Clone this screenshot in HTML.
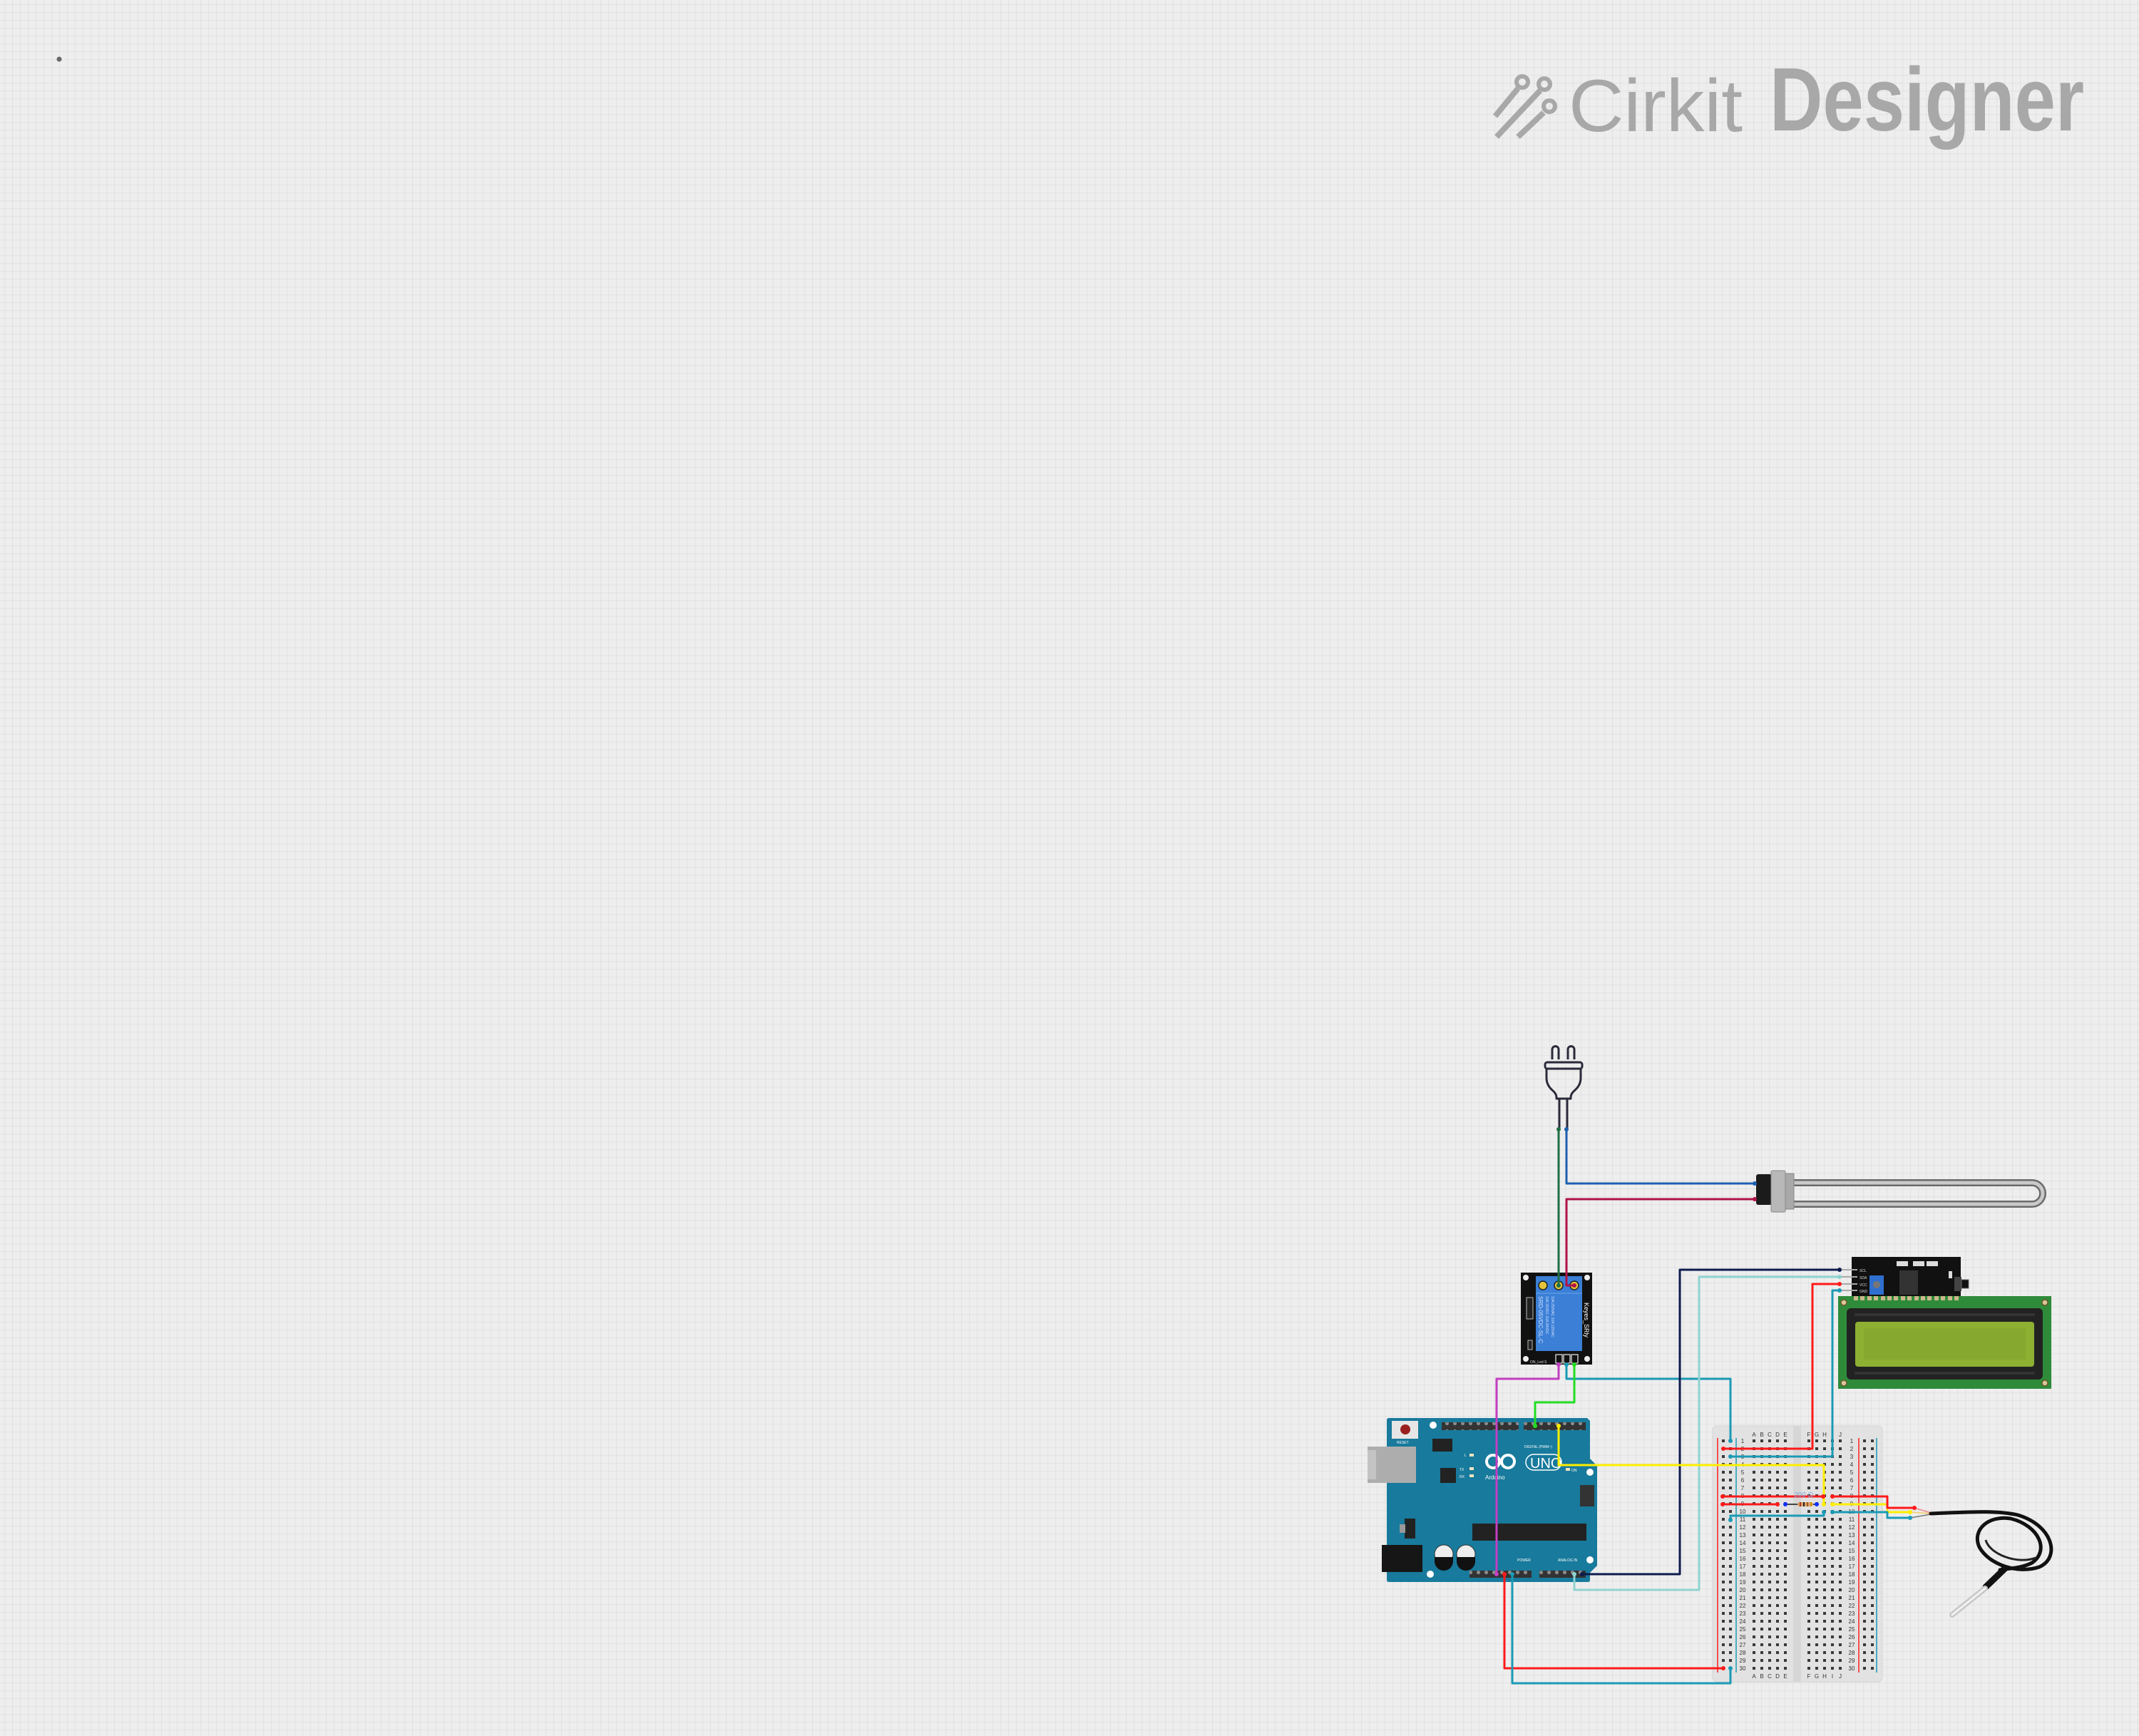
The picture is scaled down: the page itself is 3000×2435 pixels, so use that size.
<!DOCTYPE html>
<html><head><meta charset="utf-8"><style>
html,body{margin:0;padding:0;background:#eeeeee;}
svg{display:block;}
text{font-family:"Liberation Sans",sans-serif;}
</style></head><body>
<svg width="3000" height="2435" viewBox="0 0 3000 2435" xmlns="http://www.w3.org/2000/svg">
<defs>
<pattern id="grid" x="6.5" y="6.5" width="11" height="11" patternUnits="userSpaceOnUse">
<path d="M0 0H11M0 0V11" stroke="#d9d9d9" stroke-width="1.2" fill="none"/>
</pattern>
<pattern id="holes" x="2454.5" y="2015.5" width="11" height="11" patternUnits="userSpaceOnUse">
<rect x="3.5" y="3.5" width="4" height="4" fill="#3a3a3a"/>
</pattern>
<pattern id="holesR" x="2531.5" y="2015.5" width="11" height="11" patternUnits="userSpaceOnUse">
<rect x="3.5" y="3.5" width="4" height="4" fill="#3a3a3a"/>
</pattern>
<pattern id="holesV" x="0" y="2015.5" width="3000" height="11" patternUnits="userSpaceOnUse">
<rect x="2415" y="3.5" width="4" height="4" fill="#3a3a3a"/>
<rect x="2425" y="3.5" width="4" height="4" fill="#3a3a3a"/>
<rect x="2613" y="3.5" width="4" height="4" fill="#3a3a3a"/>
<rect x="2624" y="3.5" width="4" height="4" fill="#3a3a3a"/>
</pattern>
<pattern id="pins" x="0" y="0" width="11" height="11" patternUnits="userSpaceOnUse">
<circle cx="5.5" cy="5.5" r="2.6" fill="#8a8a8a"/>
</pattern>
</defs>
<rect width="3000" height="2435" fill="#eeeeee"/>
<rect width="3000" height="2435" fill="url(#grid)"/>
<circle cx="83" cy="83" r="3.5" fill="#666"/>

<!-- Logo -->
<g fill="none" stroke="#a8a8a8" stroke-width="8">
<line x1="2097" y1="163" x2="2129" y2="124"/>
<circle cx="2135" cy="115" r="8" stroke-width="6"/>
<line x1="2099" y1="192" x2="2160" y2="127"/>
<circle cx="2166" cy="118" r="8" stroke-width="6"/>
<line x1="2129" y1="192" x2="2165" y2="158"/>
<circle cx="2173" cy="149" r="8" stroke-width="6"/>
</g>
<text x="2200" y="184" font-size="104" fill="#a8a8a8" textLength="244" lengthAdjust="spacingAndGlyphs">Cirkit</text>
<text x="2482" y="183" font-size="126" font-weight="bold" fill="#a8a8a8" textLength="441" lengthAdjust="spacingAndGlyphs">Designer</text>

<!-- Plug -->
<g fill="none" stroke="#2a2a3a" stroke-width="3" stroke-linejoin="round">
<path d="M2177 1486V1472a4.5 4.5 0 0 1 9 0V1486"/>
<path d="M2199 1486V1472a4.5 4.5 0 0 1 9 0V1486"/>
<rect x="2167" y="1490" width="52" height="9" rx="3"/>
<path d="M2169 1499V1512q0 10 8 17q6 5 6 10v2h20v-2q0-5 6-10q8-7 8-17V1499"/>
<path d="M2183 1541h20"/>
<line x1="2187" y1="1541" x2="2187" y2="1584"/>
<line x1="2198" y1="1541" x2="2198" y2="1584"/>
</g>

<!-- Heater -->
<g>
<path d="M2515 1659H2850a15 15 0 0 1 0 30H2515" fill="none" stroke="#6b6b6b" stroke-width="10"/>
<path d="M2515 1659H2850a15 15 0 0 1 0 30H2515" fill="none" stroke="#c9c9c9" stroke-width="5"/>
<rect x="2463" y="1647" width="22" height="43" rx="3" fill="#1b1b1b"/>
<rect x="2484" y="1642" width="20" height="58" rx="2" fill="#b8b8b8" stroke="#8a8a8a"/>
<rect x="2504" y="1646" width="12" height="50" fill="#a9a9a9" stroke="#888"/>
</g>

<!-- Arduino -->
<path d="M1945 1992q0-3 3-3H2226l4 4V2046l10 10V2196l-10 10V2216q0 3-3 3H1948q-3 0-3-3Z" fill="#187a9c"/>
<rect x="1918" y="2029" width="68" height="51" fill="#adadad"/><rect x="1918" y="2034" width="12" height="41" fill="#c4c4c4"/>
<rect x="1938" y="2167" width="57" height="38" fill="#161616"/>
<g fill="#eee" stroke="#333"><circle cx="2025" cy="2180" r="13"/><circle cx="2056" cy="2180" r="13"/></g>
<path d="M2012 2184h26v6a13 13 0 0 1-26 0Z" fill="#111"/><path d="M2043 2184h26v6a13 13 0 0 1-26 0Z" fill="#111"/>
<rect x="1952" y="1993" width="37" height="25" fill="#e6e6e6"/><circle cx="1971" cy="2005" r="7" fill="#9a2020"/>
<text x="1959" y="2025" font-size="5" fill="#fff">RESET</text>
<rect x="2009" y="2018" width="28" height="18" fill="#222"/>
<rect x="2022" y="1995" width="108" height="11" fill="#333"/><rect x="2022" y="1995" width="108" height="11" fill="url(#pins)"/>
<rect x="2137" y="1995" width="87" height="11" fill="#333"/><rect x="2137" y="1995" width="87" height="11" fill="url(#pins)"/>
<rect x="2061" y="2203" width="87" height="10" fill="#333"/><rect x="2061" y="2203" width="87" height="10" fill="url(#pins)"/>
<rect x="2159" y="2203" width="65" height="10" fill="#333"/><rect x="2159" y="2203" width="65" height="10" fill="url(#pins)"/>
<rect x="2065" y="2137" width="160" height="24" fill="#222"/>
<rect x="2020" y="2059" width="22" height="21" fill="#222"/>
<rect x="1970" y="2130" width="15" height="28" fill="#222"/><rect x="1963" y="2138" width="8" height="12" fill="#999"/>
<rect x="2216" y="2083" width="20" height="30" fill="#333"/>
<g fill="#fff"><circle cx="2010" cy="1999" r="5"/><circle cx="2230" cy="2065" r="5"/><circle cx="2230" cy="2188" r="5"/><circle cx="2006" cy="2208" r="5"/></g>
<g fill="none" stroke="#fff" stroke-width="4"><circle cx="2094" cy="2050" r="9"/><circle cx="2115" cy="2050" r="9"/></g>
<rect x="2140" y="2040" width="50" height="22" rx="11" fill="none" stroke="#fff" stroke-width="1.5"/>
<text x="2146" y="2059" font-size="20" fill="#fff">UNO</text>
<text x="2083" y="2075" font-size="8" fill="#fff">Arduino</text>
<g fill="#f2e6c0"><rect x="2061" y="2039" width="6" height="4"/><rect x="2061" y="2058" width="6" height="4"/><rect x="2061" y="2068" width="6" height="4"/><rect x="2196" y="2059" width="6" height="4"/></g>
<g font-size="5" fill="#fff"><text x="2054" y="2043">L</text><text x="2047" y="2063">TX</text><text x="2047" y="2073">RX</text><text x="2204" y="2064">ON</text><text x="2138" y="2031">DIGITAL (PWM~)</text><text x="2128" y="2190">POWER</text><text x="2185" y="2190">ANALOG IN</text></g>

<!-- Breadboard -->
<rect x="2402" y="2000" width="238" height="359" rx="6" fill="#e2e2e2" stroke="#d4d4d4"/>
<rect x="2515" y="2000" width="11" height="359" fill="#d6d6d6"/>
<rect x="2454.5" y="2015.5" width="55" height="330" fill="url(#holes)"/>
<rect x="2531.5" y="2015.5" width="55" height="330" fill="url(#holesR)"/>
<rect x="2410" y="2015.5" width="225" height="330" fill="url(#holesV)"/>
<g stroke-width="1.5">
<line x1="2409" y1="2017" x2="2409" y2="2346" stroke="#ff2020"/>
<line x1="2435" y1="2017" x2="2435" y2="2346" stroke="#1b9ab5"/>
<line x1="2607" y1="2017" x2="2607" y2="2346" stroke="#ff2020"/>
<line x1="2632" y1="2017" x2="2632" y2="2346" stroke="#1b9ab5"/>
</g>
<g font-size="8" fill="#333" text-anchor="middle">
<text x="2460" y="2015">A</text><text x="2471" y="2015">B</text><text x="2482" y="2015">C</text><text x="2493" y="2015">D</text><text x="2504" y="2015">E</text>
<text x="2537" y="2015">F</text><text x="2548" y="2015">G</text><text x="2559" y="2015">H</text><text x="2570" y="2015">I</text><text x="2581" y="2015">J</text>
<text x="2460" y="2354">A</text><text x="2471" y="2354">B</text><text x="2482" y="2354">C</text><text x="2493" y="2354">D</text><text x="2504" y="2354">E</text>
<text x="2537" y="2354">F</text><text x="2548" y="2354">G</text><text x="2559" y="2354">H</text><text x="2570" y="2354">I</text><text x="2581" y="2354">J</text>
</g>
<g font-size="8" fill="#333" text-anchor="middle">
<text x="2444" y="2024">1</text><text x="2444" y="2035">2</text><text x="2444" y="2046">3</text><text x="2444" y="2057">4</text><text x="2444" y="2068">5</text><text x="2444" y="2079">6</text><text x="2444" y="2090">7</text><text x="2444" y="2101">8</text><text x="2444" y="2112">9</text><text x="2444" y="2123">10</text><text x="2444" y="2134">11</text><text x="2444" y="2145">12</text><text x="2444" y="2156">13</text><text x="2444" y="2167">14</text><text x="2444" y="2178">15</text><text x="2444" y="2189">16</text><text x="2444" y="2200">17</text><text x="2444" y="2211">18</text><text x="2444" y="2222">19</text><text x="2444" y="2233">20</text><text x="2444" y="2244">21</text><text x="2444" y="2255">22</text><text x="2444" y="2266">23</text><text x="2444" y="2277">24</text><text x="2444" y="2288">25</text><text x="2444" y="2299">26</text><text x="2444" y="2310">27</text><text x="2444" y="2321">28</text><text x="2444" y="2332">29</text><text x="2444" y="2343">30</text>
<text x="2597" y="2024">1</text><text x="2597" y="2035">2</text><text x="2597" y="2046">3</text><text x="2597" y="2057">4</text><text x="2597" y="2068">5</text><text x="2597" y="2079">6</text><text x="2597" y="2090">7</text><text x="2597" y="2101">8</text><text x="2597" y="2112">9</text><text x="2597" y="2123">10</text><text x="2597" y="2134">11</text><text x="2597" y="2145">12</text><text x="2597" y="2156">13</text><text x="2597" y="2167">14</text><text x="2597" y="2178">15</text><text x="2597" y="2189">16</text><text x="2597" y="2200">17</text><text x="2597" y="2211">18</text><text x="2597" y="2222">19</text><text x="2597" y="2233">20</text><text x="2597" y="2244">21</text><text x="2597" y="2255">22</text><text x="2597" y="2266">23</text><text x="2597" y="2277">24</text><text x="2597" y="2288">25</text><text x="2597" y="2299">26</text><text x="2597" y="2310">27</text><text x="2597" y="2321">28</text><text x="2597" y="2332">29</text><text x="2597" y="2343">30</text>
</g>

<!-- LCD -->
<rect x="2578" y="1818" width="299" height="130" fill="#2e8b3a"/>
<rect x="2590" y="1835" width="275" height="100" rx="6" fill="#222"/>
<rect x="2601" y="1842" width="253" height="4" fill="#333"/>
<rect x="2601" y="1924" width="253" height="4" fill="#333"/>
<rect x="2602" y="1854" width="251" height="63" rx="4" fill="#8db032"/>
<rect x="2614" y="1863" width="227" height="44" fill="#86a82e"/>
<g fill="#d8c89a" stroke="#6b5a2a" stroke-width="1.5"><circle cx="2586" cy="1827" r="4"/><circle cx="2868" cy="1827" r="4"/><circle cx="2586" cy="1940" r="4"/><circle cx="2868" cy="1940" r="4"/></g>
<!-- I2C -->
<rect x="2597" y="1763" width="153" height="55" fill="#111"/>
<g fill="#c9b98a"><rect x="2600" y="1818" width="6" height="6"/><rect x="2609" y="1818" width="6" height="6"/><rect x="2619" y="1818" width="6" height="6"/><rect x="2628" y="1818" width="6" height="6"/><rect x="2638" y="1818" width="6" height="6"/><rect x="2647" y="1818" width="6" height="6"/><rect x="2656" y="1818" width="6" height="6"/><rect x="2666" y="1818" width="6" height="6"/><rect x="2675" y="1818" width="6" height="6"/><rect x="2685" y="1818" width="6" height="6"/><rect x="2694" y="1818" width="6" height="6"/><rect x="2703" y="1818" width="6" height="6"/><rect x="2713" y="1818" width="6" height="6"/><rect x="2722" y="1818" width="6" height="6"/><rect x="2732" y="1818" width="6" height="6"/><rect x="2741" y="1818" width="6" height="6"/></g>
<rect x="2622" y="1789" width="20" height="27" fill="#2f6fcf"/><circle cx="2632" cy="1802" r="5" fill="#777"/>
<rect x="2664" y="1782" width="26" height="34" fill="#333"/>
<rect x="2741" y="1791" width="10" height="20" fill="#444"/><rect x="2751" y="1795" width="10" height="12" fill="#111" stroke="#666"/>
<g fill="#ddd"><rect x="2660" y="1769" width="16" height="7"/><rect x="2683" y="1769" width="16" height="7"/><rect x="2702" y="1769" width="16" height="7"/><rect x="2733" y="1783" width="5" height="10"/></g>
<g stroke="#aaa" stroke-width="2"><line x1="2580" y1="1781" x2="2605" y2="1781"/><line x1="2580" y1="1791" x2="2605" y2="1791"/><line x1="2580" y1="1801" x2="2605" y2="1801"/><line x1="2580" y1="1810" x2="2605" y2="1810"/></g>
<g font-size="5" fill="#ddd"><text x="2608" y="1784">SCL</text><text x="2608" y="1794">SDA</text><text x="2608" y="1804">VCC</text><text x="2608" y="1813">GND</text></g>

<!-- Relay -->
<rect x="2133" y="1785" width="100" height="129" fill="#111"/>
<rect x="2154" y="1790" width="65" height="105" fill="#3b7fd6"/>
<line x1="2154" y1="1814" x2="2219" y2="1814" stroke="#5a9ae6" stroke-width="1.5"/>
<g fill="#e4c43a" stroke="#222" stroke-width="1.5"><circle cx="2164" cy="1803" r="6"/><circle cx="2186" cy="1803" r="6"/><circle cx="2208" cy="1803" r="6"/></g>
<g fill="#eee"><circle cx="2140" cy="1792" r="4"/><circle cx="2226" cy="1792" r="4"/><circle cx="2140" cy="1906" r="4"/><circle cx="2226" cy="1906" r="4"/></g>
<rect x="2141" y="1820" width="9" height="30" fill="#222" stroke="#bbb"/>
<rect x="2143" y="1880" width="6" height="13" fill="#222" stroke="#bbb"/>
<g fill="#cfe0ff" font-size="8"><text transform="translate(2158 1818) rotate(90)">SRD-05VDC-SL-C</text><text font-size="5" transform="translate(2168 1818) rotate(90)">10A 30VDC 10A 28VDC</text><text font-size="5" transform="translate(2176 1818) rotate(90)">10A 250VAC 10A 125VAC</text></g>
<text transform="translate(2222 1827) rotate(90)" font-size="9" fill="#fff">Keyes_SRly</text>
<g fill="#111" stroke="#eee" stroke-width="1.2"><rect x="2182" y="1900" width="9" height="12"/><rect x="2193" y="1900" width="9" height="12"/><rect x="2204" y="1900" width="9" height="12"/></g>
<text x="2146" y="1912" font-size="5" fill="#ddd">ON_Led  S</text>

<!-- Temperature sensor -->
<g fill="none">
<path d="M2685 2115L2708 2122" stroke="#e88" stroke-width="1.5"/>
<path d="M2679 2121L2708 2123" stroke="#ec6" stroke-width="1.5"/>
<path d="M2679 2129L2708 2124" stroke="#777" stroke-width="1.5"/>
<path d="M2708 2123C2760 2121 2800 2118 2830 2125C2880 2140 2890 2185 2860 2198C2830 2208 2790 2195 2776 2170C2765 2145 2790 2125 2820 2130C2860 2140 2875 2175 2850 2192C2835 2200 2815 2200 2805 2202" stroke="#111" stroke-width="5" stroke-linecap="round"/>
<path d="M2785 2160C2790 2180 2830 2195 2855 2185" stroke="#222" stroke-width="3"/>
<path d="M2812 2200L2785 2226" stroke="#111" stroke-width="9" stroke-linecap="round"/>
<path d="M2784 2228L2738 2265" stroke="#c8c8c8" stroke-width="8" stroke-linecap="round"/>
<path d="M2784 2228L2738 2265" stroke="#f2f2f2" stroke-width="3" stroke-linecap="round"/>
</g>

<!-- Wires -->
<g fill="none" stroke-width="3" stroke-linejoin="round" stroke-linecap="round">
<path d="M2186 1584V1803" stroke="#1f6e45"/>
<path d="M2197 1584V1660H2461" stroke="#1f5fb0"/>
<path d="M2208 1803H2197V1682H2461" stroke="#b0124a"/>
<path d="M2186 1914V1934H2099V2208" stroke="#c23fc2"/>
<path d="M2197 1914V1934H2427V2021" stroke="#1b9ab5"/>
<path d="M2208 1914V1967H2153V2000" stroke="#22dd22"/>
<path d="M2219 2208H2356V1781H2580" stroke="#0d1b4d"/>
<path d="M2208 2208V2230H2383V1791H2580" stroke="#8fd3cf"/>
<path d="M2580 1801H2542V2032H2417" stroke="#ff1a1a"/>
<path d="M2580 1810H2570V2043H2427" stroke="#1b9ab5"/>
<path d="M2110 2208V2340H2417" stroke="#ff1a1a"/>
<path d="M2121 2208V2361H2427V2340" stroke="#1b9ab5"/>
<path d="M2186 2000V2055H2558V2110" stroke="#ffee00"/>
<path d="M2570 2110H2647V2121H2679" stroke="#ffee00"/>
<path d="M2416 2099H2557" stroke="#ff1a1a"/>
<path d="M2570 2099H2647V2115H2685" stroke="#ff1a1a"/>
<path d="M2416 2110H2493" stroke="#ff1a1a"/>
<path d="M2558 2121V2126H2427V2132" stroke="#1b9ab5"/>
<path d="M2570 2121H2647V2129H2679" stroke="#1b9ab5"/>
</g>
<!-- resistor -->
<line x1="2504" y1="2110" x2="2548" y2="2110" stroke="#111" stroke-width="1.5"/>
<rect x="2521" y="2107" width="22" height="6" rx="3" fill="#d9a36a"/>
<g stroke-width="2"><line x1="2525" y1="2107" x2="2525" y2="2113" stroke="#a32"/><line x1="2530" y1="2107" x2="2530" y2="2113" stroke="#222"/><line x1="2535" y1="2107" x2="2535" y2="2113" stroke="#a52"/><line x1="2540" y1="2107" x2="2540" y2="2113" stroke="#c90"/></g>
<text x="2516" y="2100" font-size="10" fill="#7aa6d9">200 Ω</text>

<!-- endpoint dots -->
<g>
<circle cx="2504" cy="2110" r="3" fill="#1030ff"/><circle cx="2548" cy="2110" r="3" fill="#1030ff"/>
<circle cx="2416" cy="2099" r="3" fill="#ff1a1a"/><circle cx="2557" cy="2099" r="3" fill="#ff1a1a"/><circle cx="2570" cy="2099" r="3" fill="#ff1a1a"/>
<circle cx="2416" cy="2110" r="3" fill="#ff1a1a"/><circle cx="2493" cy="2110" r="3" fill="#ff1a1a"/>
<circle cx="2558" cy="2110" r="3" fill="#ffee00"/><circle cx="2570" cy="2110" r="3" fill="#ffee00"/>
<circle cx="2558" cy="2121" r="3" fill="#1b9ab5"/><circle cx="2570" cy="2121" r="3" fill="#1b9ab5"/><circle cx="2427" cy="2132" r="3" fill="#1b9ab5"/>
<circle cx="2427" cy="2021" r="3" fill="#1b9ab5"/><circle cx="2417" cy="2032" r="3" fill="#ff1a1a"/><circle cx="2427" cy="2043" r="3" fill="#1b9ab5"/>
<circle cx="2417" cy="2340" r="3" fill="#ff1a1a"/><circle cx="2427" cy="2340" r="3" fill="#1b9ab5"/>
<circle cx="2685" cy="2115" r="3" fill="#ff1a1a"/><circle cx="2679" cy="2121" r="3" fill="#ffee00"/><circle cx="2679" cy="2129" r="3" fill="#1b9ab5"/>
<circle cx="2580" cy="1781" r="3" fill="#0d1b4d"/><circle cx="2580" cy="1791" r="3" fill="#8fd3cf"/><circle cx="2580" cy="1801" r="3" fill="#ff1a1a"/><circle cx="2580" cy="1810" r="3" fill="#1b9ab5"/>
<circle cx="2208" cy="1803" r="3" fill="#b0124a"/><circle cx="2186" cy="1803" r="3" fill="#1f6e45"/>
<circle cx="2186" cy="1914" r="3" fill="#c23fc2"/><circle cx="2197" cy="1914" r="3" fill="#1b9ab5"/><circle cx="2208" cy="1914" r="3" fill="#22dd22"/>
<circle cx="2186" cy="1584" r="3" fill="#1f6e45"/><circle cx="2197" cy="1584" r="3" fill="#1f5fb0"/>
<circle cx="2461" cy="1660" r="3" fill="#1f5fb0"/><circle cx="2461" cy="1682" r="3" fill="#b0124a"/>
<circle cx="2099" cy="2208" r="3" fill="#c23fc2"/><circle cx="2110" cy="2208" r="3" fill="#ff1a1a"/><circle cx="2121" cy="2208" r="3" fill="#1b9ab5"/>
<circle cx="2208" cy="2208" r="3" fill="#8fd3cf"/><circle cx="2219" cy="2208" r="3" fill="#0d1b4d"/>
<circle cx="2153" cy="2000" r="3" fill="#22dd22"/><circle cx="2186" cy="2000" r="3" fill="#ffee00"/>
</g>
</svg>
</body></html>
